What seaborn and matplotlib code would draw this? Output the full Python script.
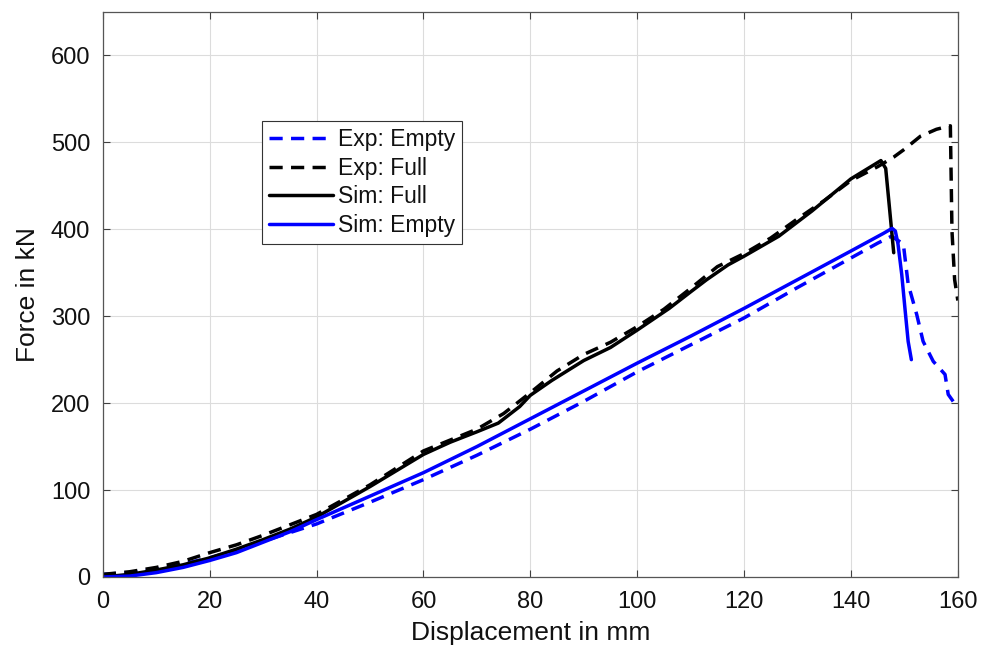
import matplotlib
matplotlib.use("Agg")
import matplotlib.pyplot as plt
import numpy as np
import pandas as pd
import seaborn as sns

# Exp: Empty (blue dashed)
exp_empty_x = [0, 5, 10, 15, 20, 25, 30, 40, 50, 60, 70, 80, 90, 100, 110, 120, 130, 140, 145,
               147.6, 149.8, 150.7, 152.3, 153.5, 155.4, 157.6, 158.2, 159.7, 160]
exp_empty_y = [3, 5, 9, 15, 22, 31, 41, 61, 86, 112, 140, 170, 202, 236, 267, 298, 333, 367, 384,
               392, 383, 337, 302, 271, 248, 233, 210, 197, 194]

# Exp: Full (black dashed)
exp_full_x = [0, 5, 10, 15, 20, 25, 30, 35, 40, 50, 60, 70, 75, 80, 85, 90, 95, 100, 105, 110, 115,
              120, 125, 130, 135, 140, 145, 148, 150, 153, 156, 158.6, 158.9, 159.4, 160]
exp_full_y = [3, 6, 11, 18, 28, 37, 48, 60, 72, 106, 145, 170, 188, 212, 237, 256, 270, 288, 308, 332, 357,
              372, 390, 412, 433, 456, 472, 483, 492, 507, 515, 519, 398, 342, 318]

# Sim: Full (black solid)
sim_full_x = [0, 5, 10, 15, 20, 25, 30, 35, 40, 50, 60, 65, 70, 74, 78, 80, 84, 90, 95, 100, 106, 110,
              113, 117, 120, 126.5, 132.7, 140, 144, 145.6, 146.5, 147.2, 148]
sim_full_y = [0, 3, 8, 14, 22, 32, 43, 55, 69, 104, 141, 155, 167, 177, 196, 209, 226, 249, 264, 284, 309, 328,
              342, 359, 369, 392, 421, 458, 473, 479, 470, 425, 373]

# Sim: Empty (blue solid)
sim_empty_x = [0, 5, 10, 15, 20, 25, 30, 35, 40, 50, 60, 70, 80, 90, 100, 110, 120, 130, 140, 146,
               147.7, 148.3, 148.8, 149.5, 150.1, 150.7, 151.3]
sim_empty_y = [0, 1, 5, 11, 19, 28, 40, 52, 66, 93, 120, 150, 182, 214, 246, 277, 309, 342, 375, 395,
               401, 398, 383, 348, 309, 271, 250]

x_ticks = np.arange(0, 161, 20)
y_ticks = np.arange(0, 601, 100)

sns.set_theme(style="whitegrid")
plt.rcParams["font.family"] = ["Liberation Sans", "DejaVu Sans"]

fig = plt.figure(figsize=(9.89, 6.51), dpi=100)
ax = fig.add_axes([0.104, 0.1137, 0.8645, 0.868])

dash = (0, (3.8, 2.4))
series = [
    ("Exp: Empty", exp_empty_x, exp_empty_y, "#0000ff", dash),
    ("Exp: Full", exp_full_x, exp_full_y, "black", dash),
    ("Sim: Full", sim_full_x, sim_full_y, "black", "-"),
    ("Sim: Empty", sim_empty_x, sim_empty_y, "#0000ff", "-"),
]
for label, xs, ys, color, ls in series:
    df = pd.DataFrame({"x": xs, "y": ys})
    sns.lineplot(data=df, x="x", y="y", ax=ax, sort=False, estimator=None,
                 color=color, linestyle=ls, linewidth=2.5, label=label)

ax.set_xlim(0, 160)
ax.set_ylim(0, 650)
ax.set_xticks(x_ticks)
ax.set_yticks(y_ticks)
ax.set_xlabel("Displacement in mm", fontsize=19, color="#111111", labelpad=6)
ax.set_ylabel("Force in kN", fontsize=19, color="#111111", labelpad=8)
ax.tick_params(axis="both", which="both", direction="in", length=5, width=0.8,
               labelsize=17, colors="#404040", labelcolor="#111111",
               top=True, right=True, bottom=True, left=True)
ax.tick_params(axis="x", pad=10)
ax.tick_params(axis="y", pad=9)
ax.grid(True, color="#dcdcdc", linewidth=0.8)
ax.set_facecolor("white")
for sp in ax.spines.values():
    sp.set_visible(True)
    sp.set_color("#555555")
    sp.set_linewidth(0.9)

leg = ax.legend(loc="upper left", bbox_to_anchor=(0.265, 0.814), bbox_transform=fig.transFigure,
                fontsize=16.5, frameon=True, fancybox=False, handlelength=2.8, handletextpad=0.2,
                borderpad=0.3, labelspacing=0.25, borderaxespad=0)
leg.get_frame().set_edgecolor("#333333")
leg.get_frame().set_linewidth(0.8)
leg.get_frame().set_alpha(1)
for t in leg.get_texts():
    t.set_color("#111111")

fig.savefig("out.png", dpi=100)
